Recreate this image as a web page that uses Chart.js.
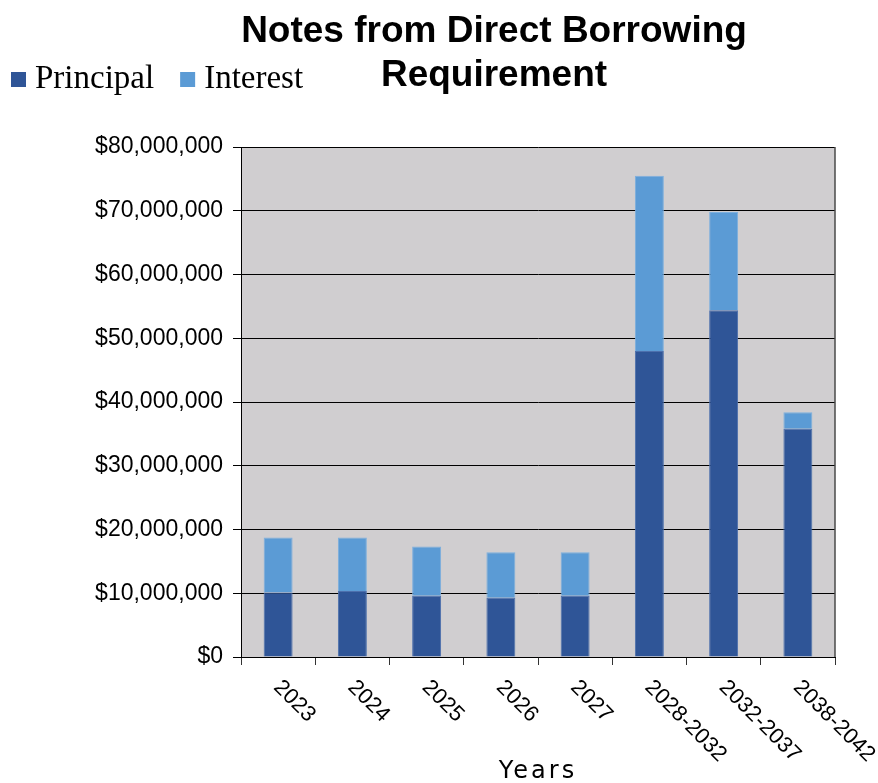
<!DOCTYPE html>
<html>
<head>
<meta charset="utf-8">
<title>Notes from Direct Borrowing Requirement</title>
<script src="https://cdn.jsdelivr.net/npm/chart.js@4/dist/chart.umd.min.js"></script>
<style>
  html, body { margin: 0; padding: 0; background: #fff; }
  canvas { display: block; }
</style>
</head>
<body>
<canvas id="debt-chart" width="878" height="783"></canvas>
<script>
const years = ["2023", "2024", "2025", "2026", "2027", "2028-2032", "2032-2037", "2038-2042"];
const principal = [10100000, 10350000, 9600000, 9300000, 9600000, 48000000, 54400000, 35800000];
const interest = [8650000, 8400000, 7750000, 7150000, 6850000, 27500000, 15400000, 2600000];
const titleLines = ["Notes from Direct Borrowing", "Requirement"];
const axisTitle = "Years";

const sansFont = "'Liberation Sans', Arial, sans-serif";

// gray plot background plus the right-hand frame line
const plotFrame = {
  id: "plotFrame",
  beforeDraw(chart) {
    const { ctx, chartArea: a } = chart;
    ctx.save();
    ctx.fillStyle = "#D0CED0";
    ctx.fillRect(a.left, a.top, a.right - a.left, a.bottom - a.top);
    ctx.restore();
  },
  afterDraw(chart) {
    const { ctx, chartArea: a } = chart;
    ctx.save();
    ctx.strokeStyle = "#4a4a4a";
    ctx.lineWidth = 1.5;
    ctx.beginPath();
    ctx.moveTo(a.right, a.top);
    ctx.lineTo(a.right, a.bottom);
    ctx.stroke();
    ctx.restore();
  },
};

// title, legend, slanted year labels and the axis title
const decorations = {
  id: "decorations",
  afterDraw(chart) {
    const { ctx, chartArea: a } = chart;
    const xScale = chart.scales.x;
    ctx.save();
    ctx.fillStyle = "#000";

    // title
    ctx.font = "bold 37px " + sansFont;
    ctx.textAlign = "center";
    ctx.textBaseline = "middle";
    titleLines.forEach((line, i) => ctx.fillText(line, 494, 32 + i * 44));

    // legend
    ctx.font = "33px 'Liberation Serif', 'Times New Roman', serif";
    ctx.textAlign = "left";
    ctx.textBaseline = "alphabetic";
    let lx = 11;
    chart.data.datasets.forEach((ds) => {
      ctx.fillStyle = ds.backgroundColor;
      ctx.fillRect(lx, 72, 15, 15);
      ctx.fillStyle = "#000";
      ctx.fillText(ds.label, lx + 24, 88);
      lx += 24 + ctx.measureText(ds.label).width + 26;
    });

    // category labels, turned 45 degrees clockwise
    ctx.font = "22px " + sansFont;
    ctx.textBaseline = "middle";
    chart.data.labels.forEach((label, i) => {
      const x = xScale.getPixelForValue(i);
      ctx.save();
      ctx.translate(x - 1, a.bottom + 27);
      ctx.rotate(Math.PI / 4);
      ctx.fillText(label, 0, 0);
      ctx.restore();
    });

    // axis title
    ctx.font = "24px 'DejaVu Sans', Verdana, sans-serif";
    ctx.letterSpacing = "3px";
    ctx.textAlign = "center";
    ctx.textBaseline = "alphabetic";
    ctx.fillText(axisTitle, (a.left + a.right) / 2, 778);
    ctx.restore();
  },
};

new Chart(document.getElementById("debt-chart"), {
  type: "bar",
  data: {
    labels: years,
    datasets: [
      {
        label: "Principal",
        data: principal,
        backgroundColor: "#2F5597",
        borderColor: "#4D70AD",
        borderWidth: 1,
      },
      {
        label: "Interest",
        data: interest,
        backgroundColor: "#5B9BD5",
        borderColor: "#7DAFDE",
        borderWidth: 1,
      },
    ],
  },
  options: {
    responsive: false,
    animation: false,
    layout: { padding: { top: 147, left: 0, right: 43, bottom: 0 } },
    datasets: {
      bar: { categoryPercentage: 1, barPercentage: 0.39 },
    },
    plugins: {
      legend: { display: false },
      title: { display: false },
      tooltip: { enabled: false },
    },
    scales: {
      x: {
        stacked: true,
        afterFit(scale) { scale.height = 126; },
        border: { color: "#000", width: 1 },
        grid: {
          offset: true,
          drawOnChartArea: false,
          drawTicks: true,
          tickLength: 8,
          color: "#333",
        },
        ticks: { display: false },
      },
      y: {
        stacked: true,
        min: 0,
        max: 80000000,
        afterFit(scale) { scale.width = 241; },
        border: { color: "#000", width: 1 },
        grid: { color: "#000", lineWidth: 1, tickLength: 8 },
        ticks: {
          stepSize: 10000000,
          padding: 10,
          color: "#000",
          font: { family: sansFont, size: 23 },
          callback: (v) => "$" + Number(v).toLocaleString("en-US"),
        },
      },
    },
  },
  plugins: [plotFrame, decorations],
});
</script>
</body>
</html>
